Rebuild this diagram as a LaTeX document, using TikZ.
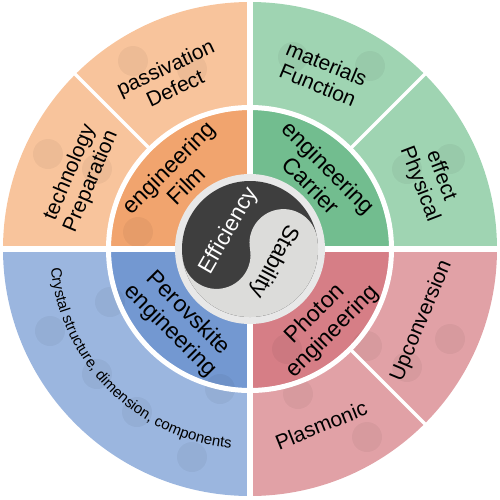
\documentclass[tikz,border=0pt]{standalone}
\usepackage{fontspec}
\setmainfont{Liberation Sans}
\usetikzlibrary{decorations.text}
\definecolor{orO}{HTML}{F8C49C}
\definecolor{orI}{HTML}{F1A46E}
\definecolor{grO}{HTML}{9FD4B2}
\definecolor{grI}{HTML}{72BD8F}
\definecolor{blO}{HTML}{9BB6DF}
\definecolor{blI}{HTML}{7398D1}
\definecolor{rdO}{HTML}{E1A1A6}
\definecolor{rdI}{HTML}{D67E86}
\definecolor{yyDark}{HTML}{3E3E3E}
\definecolor{yyLight}{HTML}{DCDCDA}
\begin{document}
\begin{tikzpicture}[x=1pt,y=1pt,
  olbl/.style={align=center, inner sep=0pt, text=black, font=\fontsize{21}{23}\selectfont},
  ilbl/.style={align=center, inner sep=0pt, text=black, font=\fontsize{23}{25}\selectfont},
  clbl/.style={inner sep=0pt, font=\fontsize{22.5}{24}\selectfont},
  gap/.style={draw=white, line width=6pt},
  sep/.style={draw=white, line width=3.5pt},
  deco/.style={fill=black, fill opacity=0.045}]
\useasboundingbox (-250,-250) rectangle (250,249);
% outer ring sectors
\fill[orO] (0,0) -- (90:247) arc[start angle=90,end angle=180,radius=247] -- cycle;
\fill[grO] (0,0) -- (0:247) arc[start angle=0,end angle=90,radius=247] -- cycle;
\fill[blO] (0,0) -- (180:247) arc[start angle=180,end angle=270,radius=247] -- cycle;
\fill[rdO] (0,0) -- (270:247) arc[start angle=270,end angle=360,radius=247] -- cycle;
% inner ring sectors
\fill[orI] (0,0) -- (90:139) arc[start angle=90,end angle=180,radius=139] -- cycle;
\fill[grI] (0,0) -- (0:139) arc[start angle=0,end angle=90,radius=139] -- cycle;
\fill[blI] (0,0) -- (180:139) arc[start angle=180,end angle=270,radius=139] -- cycle;
\fill[rdI] (0,0) -- (270:139) arc[start angle=270,end angle=360,radius=139] -- cycle;
% faint decorative molecules
\foreach \p in {(-117,188),(-58,180),(-202,95),(-153,80),(-112,17),(-200,-82),(-153,-125),(-113,-163),(-58,-208),(-30,-140),(-140,-53),(200,-90),(157,-118),(117,-188),(48,-145),(117,-97),(37,-100),(43,192),(120,183),(200,90),(157,80)}
  \fill[deco] \p circle (15);
% white gaps
\draw[gap] (0,-250) -- (0,249);
\draw[gap] (-250,0) -- (250,0);
\draw[draw=white, line width=5pt] (0,0) circle (141.5);
\draw[sep] (135:143) -- (135:248);
\draw[sep] (45:143) -- (45:248);
\draw[sep] (-45:143) -- (-45:248);
% centre disc
\fill[gray!18] (0,0) circle (75);
\fill[yyDark] (0,0) circle (68);
\begin{scope}[rotate=10]
\fill[yyLight] (68,0) arc[start angle=0,end angle=-180,radius=68]
  arc[start angle=180,end angle=360,radius=34]
  arc[start angle=180,end angle=0,radius=34] -- cycle;
\end{scope}
\node[clbl, text=white, rotate=60] (eff) at (-21,18) {Efficiency};
\node[clbl, text=black, rotate=-118] (stab) at (24,-12) {Stability};
% inner ring labels
\node[ilbl, rotate=45] (film) at (135:103) {engineering\\Film};
\node[ilbl, rotate=-45] (carrier) at (46:101) {engineering\\Carrier};
\node[ilbl, rotate=-45] (perov) at (226:102) {Perovskite\\engineering};
\node[ilbl, rotate=45] (photon) at (-45:105) {Photon\\engineering};
% outer ring labels
\node[olbl, rotate=25] (defect) at (115:189) {passivation\\Defect};
\node[olbl, rotate=67] (prep) at (157:184) {technology\\Preparation};
\node[olbl, rotate=-22.5] (func) at (67.5:189) {materials\\Function};
\node[olbl, rotate=-69] (phys) at (21:193) {effect\\Physical};
\node[olbl, rotate=67.3] (upc) at (-22.7:186) {Upconversion};
\node[olbl, rotate=22] (plas) at (-68:190) {Plasmonic};
\path[decorate, decoration={text along path, text align=center,
  text={|\fontsize{15}{15}\selectfont|Crystal structure, dimension, components}}]
  (181:200) arc[start angle=181, end angle=269, radius=200];
\end{tikzpicture}
\end{document}
